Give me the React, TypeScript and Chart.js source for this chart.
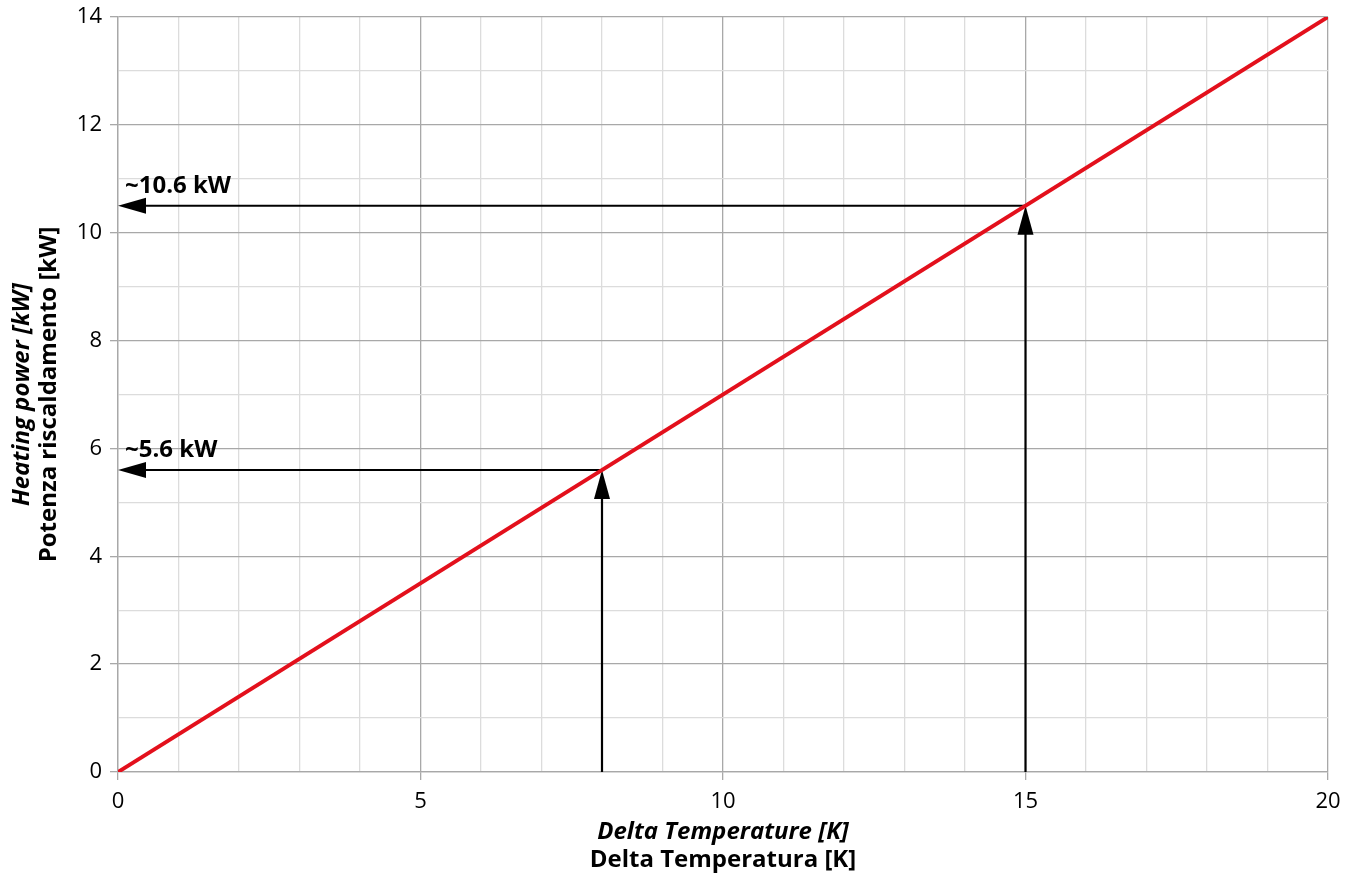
import React, { useEffect, useRef } from "react";
import { Chart, registerables } from "chart.js";

Chart.register(...registerables);

// ---- data ----
const lineX: number[] = [0, 20];
const lineY: number[] = [0, 14];
const readX: number[] = [8, 15];
const readY: number[] = [5.6, 10.5];
const readLabels: string[] = ["~5.6 kW", "~10.6 kW"];
const xTitle: string[] = ["Delta Temperature [K]", "Delta Temperatura [K]"];
const yTitle: string[] = ["Heating power [kW]", "Potenza riscaldamento [kW]"];

const FONT = "'Open Sans', 'Liberation Sans', sans-serif";
const MAJOR = "#a8a8a8";
const MINOR = "#dcdcdc";
const RED = "#e3101c";

const annotPlugin = {
  id: "annot",
  beforeDatasetsDraw(chart: any) {
    const { ctx, scales } = chart;
    const xs = scales.x;
    const ys = scales.y;
    ctx.save();
    ctx.strokeStyle = "#000";
    ctx.fillStyle = "#000";
    ctx.lineWidth = 2.2;
    for (let i = 0; i < readX.length; i++) {
      const px = xs.getPixelForValue(readX[i]);
      const py = ys.getPixelForValue(readY[i]);
      const x0 = xs.getPixelForValue(0);
      const y0 = ys.getPixelForValue(0);
      ctx.beginPath();
      ctx.moveTo(px, y0);
      ctx.lineTo(px, py + 20);
      ctx.stroke();
      ctx.beginPath();
      ctx.moveTo(px, py);
      ctx.lineTo(px - 8, py + 29);
      ctx.lineTo(px + 8, py + 29);
      ctx.closePath();
      ctx.fill();
      ctx.beginPath();
      ctx.moveTo(px, py);
      ctx.lineTo(x0 + 20, py);
      ctx.stroke();
      ctx.beginPath();
      ctx.moveTo(x0, py);
      ctx.lineTo(x0 + 28, py - 8);
      ctx.lineTo(x0 + 28, py + 8);
      ctx.closePath();
      ctx.fill();
      ctx.font = `bold 24px ${FONT}`;
      ctx.textAlign = "left";
      ctx.textBaseline = "alphabetic";
      ctx.fillText(readLabels[i], x0 + 7, py - 13);
    }
    ctx.restore();
  },
  afterDraw(chart: any) {
    const { ctx, chartArea } = chart;
    ctx.save();
    ctx.fillStyle = "#000";
    ctx.textAlign = "center";
    ctx.textBaseline = "middle";
    const cx = (chartArea.left + chartArea.right) / 2;
    ctx.font = `italic bold 24px ${FONT}`;
    ctx.fillText(xTitle[0], cx, 832);
    ctx.font = `bold 24px ${FONT}`;
    ctx.fillText(xTitle[1], cx, 860);
    const cy = (chartArea.top + chartArea.bottom) / 2;
    ctx.translate(22, cy);
    ctx.rotate(-Math.PI / 2);
    ctx.font = `italic bold 24px ${FONT}`;
    ctx.fillText(yTitle[0], 0, 0);
    ctx.font = `bold 24px ${FONT}`;
    ctx.fillText(yTitle[1], 0, 27);
    ctx.restore();
  },
};

export default function App() {
  const ref = useRef<HTMLCanvasElement | null>(null);
  useEffect(() => {
    if (!ref.current) return;
    const chart = new Chart(ref.current, {
      type: "line",
      data: {
        datasets: [
          {
            data: lineX.map((x, i) => ({ x, y: lineY[i] })),
            borderColor: RED,
            borderWidth: 4,
            pointRadius: 0,
            fill: false,
          },
        ],
      },
      options: {
        animation: false,
        responsive: true,
        maintainAspectRatio: false,
        layout: { padding: { left: 0, top: 17, right: 27, bottom: 0 } },
        plugins: { legend: { display: false }, tooltip: { enabled: false } },
        scales: {
          x: {
            type: "linear",
            min: 0,
            max: 20,
            afterFit(s: any) {
              s.height = 112;
              s.paddingLeft = 0;
              s.paddingRight = 0;
            },
            ticks: {
              stepSize: 1,
              autoSkip: false,
              maxRotation: 0,
              padding: 9,
              color: "#000",
              font: { family: FONT, size: 22 },
              callback: (v: any) => (Number(v) % 5 === 0 ? String(v) : ""),
            },
            grid: {
              color: (c: any) => (c.tick && c.tick.value % 5 === 0 ? MAJOR : MINOR),
              lineWidth: 1.3,
              tickLength: 8,
              tickColor: (c: any) => (c.tick && c.tick.value % 5 === 0 ? MAJOR : "rgba(0,0,0,0)"),
            },
            border: { color: MAJOR, width: 1.3 },
          },
          y: {
            type: "linear",
            min: 0,
            max: 14,
            afterFit(s: any) {
              s.width = 118;
              s.paddingTop = 0;
              s.paddingBottom = 0;
            },
            ticks: {
              stepSize: 1,
              autoSkip: false,
              padding: 8,
              color: "#000",
              font: { family: FONT, size: 22 },
              callback: (v: any) => (Number(v) % 2 === 0 ? String(v) : ""),
            },
            grid: {
              color: (c: any) => (c.tick && c.tick.value % 2 === 0 ? MAJOR : MINOR),
              lineWidth: 1.3,
              tickLength: 8,
              tickColor: (c: any) => (c.tick && c.tick.value % 2 === 0 ? MAJOR : "rgba(0,0,0,0)"),
            },
            border: { color: MAJOR, width: 1.3 },
          },
        },
      },
      plugins: [annotPlugin],
    });
    return () => chart.destroy();
  }, []);
  return (
    <div style={{ position: "absolute", left: 0, top: 0, width: 1355, height: 884, background: "#fff" }}>
      <canvas ref={ref} />
    </div>
  );
}
